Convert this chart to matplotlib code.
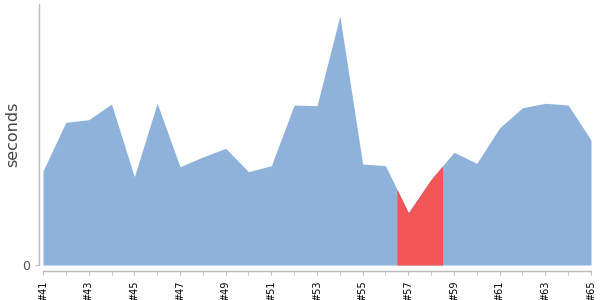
import matplotlib
matplotlib.use("Agg")
import matplotlib.pyplot as plt
import numpy as np

builds = list(range(41, 66))
seconds = [9.40, 14.27, 14.53, 16.10, 8.83, 16.17, 9.83, 10.80, 11.67, 9.33,
           9.93, 16.00, 15.93, 24.90, 10.10, 9.93, 5.23, 8.57, 11.27, 10.17,
           13.73, 15.73, 16.17, 16.00, 12.50]
highlight = (56.5, 58.5)
tick_labels = ["#%d" % b for b in builds]

blue = "#8fb2da"
red = "#f25656"

fig = plt.figure(figsize=(6, 3), dpi=100)
ax = fig.add_axes([43/600, 35/300, (591-43)/600, (265-4)/300])

x = np.array(builds, dtype=float)
y = np.array(seconds)
ax.fill_between(x, 0, y, color=blue, linewidth=0)

# highlighted range
xs = np.linspace(highlight[0], highlight[1], 200)
xs = np.union1d(xs, x[(x >= highlight[0]) & (x <= highlight[1])])
ys = np.interp(xs, x, y)
ax.fill_between(xs, 0, ys, color=red, linewidth=0)

ax.set_xlim(41, 65)
ax.set_ylim(0, 26.1)

for s in ["top", "right"]:
    ax.spines[s].set_visible(False)
ax.spines["left"].set_position(("outward", 3))
ax.spines["bottom"].set_position(("outward", 4))
for s in ["left", "bottom"]:
    ax.spines[s].set_color("#bbbbbb")
    ax.spines[s].set_linewidth(1)

ax.set_xticks(builds[::2])
ax.set_xticklabels(tick_labels[::2], rotation=90, fontsize=7, color="#000000")
ax.set_xticks(builds[1::2], minor=True)
ax.tick_params(axis="x", which="both", length=3, color="#bbbbbb", pad=4)

ax.set_yticks([0])
ax.set_yticklabels(["0"], fontsize=9, color="#555555")
ax.tick_params(axis="y", length=3, color="#bbbbbb", pad=3)

fig.text(13/600, 1 - 134/300, "seconds", rotation=90, ha="center", va="center",
         fontsize=11.5, color="#444444")

fig.savefig("out.png", dpi=100)
